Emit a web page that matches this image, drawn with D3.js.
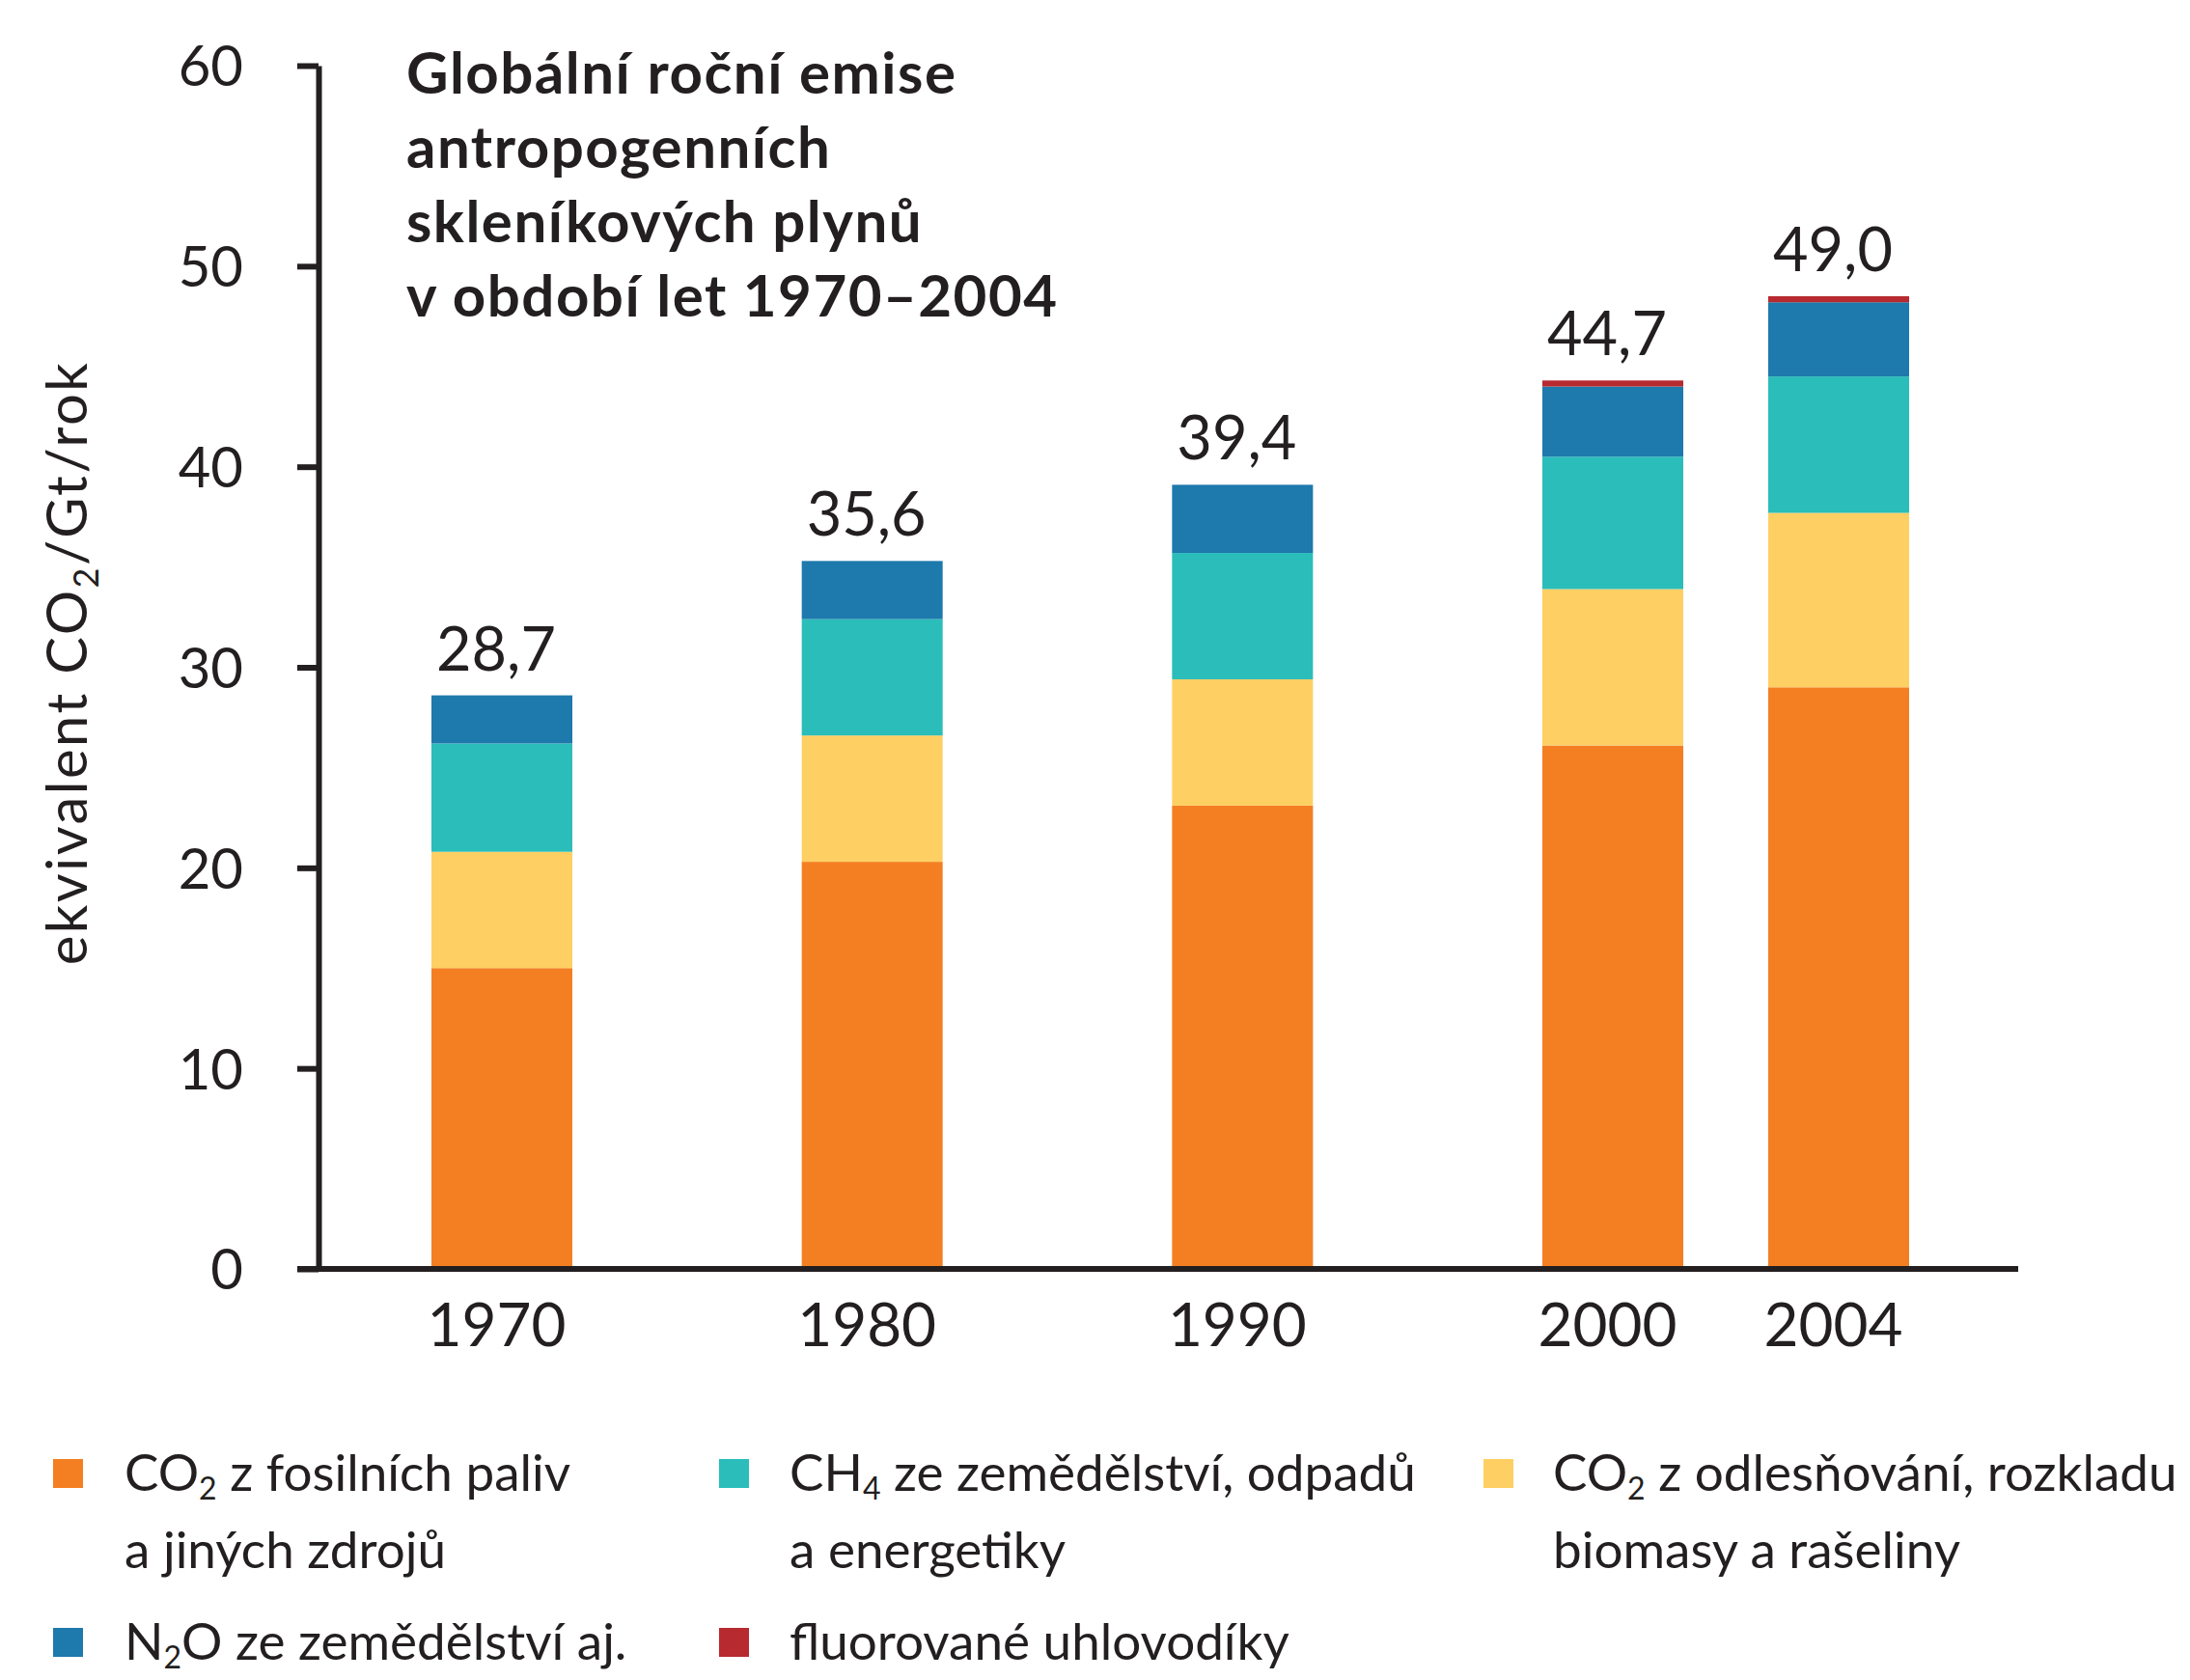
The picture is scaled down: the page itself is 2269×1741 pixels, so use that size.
<!DOCTYPE html>
<html>
<head>
<meta charset="utf-8">
<script src="https://cdn.jsdelivr.net/npm/d3@7"></script>
<style>
  body { margin: 0; background: #fff; }
  text { font-family: Lato, "Open Sans", sans-serif; fill: #231f20; }
</style>
</head>
<body>
<div id="chart"></div>
<script>
// data (Gt CO2-eq per year)
const years = [1970, 1980, 1990, 2000, 2004];
const totalLabels = ["28,7", "35,6", "39,4", "44,7", "49,0"];
const co2Fossil = [15.0, 20.3, 23.1, 26.1, 29.0];
const co2Forest = [5.8, 6.3, 6.3, 7.8, 8.7];
const ch4 = [5.4, 5.8, 6.3, 6.6, 6.8];
const n2o = [2.4, 2.9, 3.4, 3.5, 3.7];
const fGases = [0, 0, 0, 0.3, 0.3];
const yTicks = [0, 10, 20, 30, 40, 50, 60];

const seriesKeys = ["co2Fossil", "co2Forest", "ch4", "n2o", "fGases"];
const seriesColors = {
  co2Fossil: "#f47f22",
  co2Forest: "#fecf63",
  ch4: "#2abdba",
  n2o: "#1e79ac",
  fGases: "#b72a30"
};

// legend: [key, line 1 parts, line 2]
const legendItems = [
  ["co2Fossil", [["CO", ""], ["2", "sub"], [" z fosilních paliv", ""]], "a jiných zdrojů"],
  ["ch4", [["CH", ""], ["4", "sub"], [" ze zemědělství, odpadů", ""]], "a energetiky"],
  ["co2Forest", [["CO", ""], ["2", "sub"], [" z odlesňování, rozkladu", ""]], "biomasy a rašeliny"],
  ["n2o", [["N", ""], ["2", "sub"], ["O ze zemědělství aj.", ""]], ""],
  ["fGases", [["fluorované uhlovodíky", ""]], ""]
];

const titleLines = ["Globální roční emise", "antropogenních", "skleníkových plynů", "v období let 1970–2004"];

const W = 2269, H = 1741;
const barWidth = 146;

const table = years.map((yr, i) => ({
  year: yr,
  label: totalLabels[i],
  co2Fossil: co2Fossil[i],
  co2Forest: co2Forest[i],
  ch4: ch4[i],
  n2o: n2o[i],
  fGases: fGases[i]
}));

const stacked = d3.stack().keys(seriesKeys)(table);

const svg = d3.select("#chart").append("svg")
  .attr("width", W)
  .attr("height", H);

// 2004 sits closer to 2000 than a linear year axis would put it
const x = d3.scaleLinear()
  .domain([1970, 2000, 2004])
  .range([520, 1671, 1905]);

const y = d3.scaleLinear()
  .domain([0, 60])
  .range([1315, 68]);

// bars
svg.append("g").selectAll("g")
  .data(stacked)
  .enter().append("g")
  .attr("fill", d => seriesColors[d.key])
  .selectAll("rect")
  .data(d => d)
  .enter().append("rect")
  .attr("x", d => x(d.data.year) - barWidth / 2)
  .attr("y", d => y(d[1]))
  .attr("width", barWidth)
  .attr("height", d => y(d[0]) - y(d[1]));

// total labels above bars
const topLayer = stacked[stacked.length - 1];
svg.append("g").selectAll("text")
  .data(topLayer)
  .enter().append("text")
  .attr("x", d => x(d.data.year) - 6)
  .attr("y", d => y(d[1]) - 26)
  .attr("text-anchor", "middle")
  .style("font-size", "63px")
  .text(d => d.data.label);

// y axis
const yAxis = svg.append("g")
  .attr("transform", "translate(330,0)")
  .call(d3.axisLeft(y).tickValues(yTicks).tickSize(22).tickSizeOuter(0).tickPadding(56));
yAxis.select(".domain").attr("stroke", "#231f20").attr("stroke-width", 6);
yAxis.selectAll(".tick line").attr("stroke", "#231f20").attr("stroke-width", 6);
yAxis.selectAll(".tick text")
  .style("font-size", "58px")
  .style("font-family", "Lato, sans-serif")
  .attr("fill", "#231f20")
  .attr("dy", "0.36em");

// x axis baseline
svg.append("line")
  .attr("x1", 308)
  .attr("x2", 2091)
  .attr("y1", y(0))
  .attr("y2", y(0))
  .attr("stroke", "#231f20")
  .attr("stroke-width", 6);

const xAxis = svg.append("g")
  .attr("transform", "translate(0," + y(0) + ")")
  .call(d3.axisBottom(x).tickValues(years).tickSize(0).tickPadding(36).tickFormat(d3.format("d")));
xAxis.select(".domain").remove();
xAxis.selectAll(".tick text")
  .style("font-size", "62px")
  .style("font-family", "Lato, sans-serif")
  .attr("fill", "#231f20")
  .attr("dx", -6);

// y axis title
const yTitle = svg.append("text")
  .attr("transform", "translate(90," + 687 + ") rotate(-90)")
  .attr("text-anchor", "middle")
  .style("font-size", "58px")
  .style("letter-spacing", "2.5px");
yTitle.append("tspan").text("ekvivalent CO");
yTitle.append("tspan").attr("dy", 12).style("font-size", "36px").text("2");
yTitle.append("tspan").attr("dy", -12).text("/Gt/rok");

// chart title
svg.append("text")
  .attr("x", 421)
  .attr("y", 97)
  .style("font-size", "60px")
  .style("font-weight", "bold")
  .style("letter-spacing", "1.5px")
  .selectAll("tspan")
  .data(titleLines)
  .enter().append("tspan")
  .attr("x", 421)
  .attr("dy", (d, i) => i === 0 ? 0 : 77)
  .text(d => d);

// legend
const legendPos = [
  { sx: 55, tx: 129, ty: 1545 },
  { sx: 745, tx: 818, ty: 1545 },
  { sx: 1537, tx: 1609, ty: 1545 },
  { sx: 55, tx: 129, ty: 1720 },
  { sx: 745, tx: 818, ty: 1720 }
];
const legend = svg.append("g");
legendItems.forEach((item, i) => {
  const p = legendPos[i];
  legend.append("rect")
    .attr("x", p.sx)
    .attr("y", p.ty - 33)
    .attr("width", 31)
    .attr("height", 30)
    .attr("fill", seriesColors[item[0]]);
  const t = legend.append("text")
    .attr("x", p.tx)
    .attr("y", p.ty)
    .style("font-size", "53px");
  let shifted = false;
  item[1].forEach(part => {
    const span = t.append("tspan").text(part[0]);
    if (part[1] === "sub") {
      span.attr("dy", 9).style("font-size", "32px");
      shifted = true;
    } else if (shifted) {
      span.attr("dy", -9);
      shifted = false;
    }
  });
  if (item[2]) {
    legend.append("text")
      .attr("x", p.tx)
      .attr("y", p.ty + 80)
      .style("font-size", "53px")
      .text(item[2]);
  }
});
</script>
</body>
</html>
